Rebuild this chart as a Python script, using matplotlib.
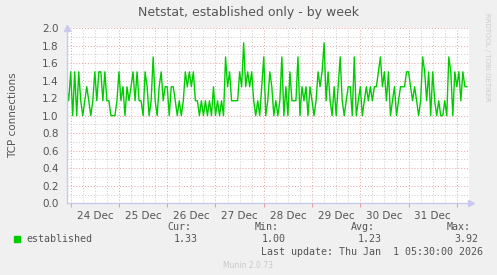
import matplotlib
matplotlib.use("Agg")
import matplotlib.pyplot as plt
import matplotlib.dates as mdates
import pandas as pd

# hourly samples, starting 23 Dec 22:00
start_time = "2025-12-23 22:00"
established = [
    1.33, 1.17,
    # 24 Dec
    1.5, 1.0, 1.5, 1.0, 1.5, 1.17, 1.0, 1.17, 1.33, 1.17, 1.0, 1.17,
    1.5, 1.17, 1.5, 1.5, 1.17, 1.5, 1.17, 1.17, 1.0, 1.0, 1.0, 1.17,
    # 25 Dec
    1.5, 1.17, 1.33, 1.0, 1.33, 1.17, 1.33, 1.5, 1.17, 1.5, 1.17, 1.17,
    1.0, 1.5, 1.33, 1.0, 1.17, 1.67, 1.17, 1.0, 1.33, 1.5, 1.17, 1.33,
    # 26 Dec
    1.33, 1.0, 1.33, 1.33, 1.17, 1.0, 1.17, 1.0, 1.17, 1.5, 1.33, 1.5,
    1.33, 1.5, 1.17, 1.17, 1.0, 1.17, 1.0, 1.17, 1.0, 1.17, 1.0, 1.33,
    # 27 Dec
    1.0, 1.17, 1.0, 1.17, 1.0, 1.67, 1.33, 1.5, 1.17, 1.17, 1.17, 1.17,
    1.5, 1.33, 1.83, 1.33, 1.5, 1.33, 1.5, 1.17, 1.0, 1.17, 1.0, 1.33,
    # 28 Dec
    1.67, 1.0, 1.17, 1.5, 1.33, 1.0, 1.17, 1.0, 1.17, 1.67, 1.0, 1.33,
    1.0, 1.5, 1.17, 1.17, 1.17, 1.67, 1.0, 1.33, 1.17, 1.33, 1.0, 1.33,
    # 29 Dec
    1.17, 1.0, 1.17, 1.5, 1.33, 1.5, 1.83, 1.17, 1.5, 1.17, 1.0, 1.33,
    1.0, 1.33, 1.67, 1.17, 1.0, 1.17, 1.33, 1.33, 1.0, 1.67, 1.0, 1.17,
    # 30 Dec
    1.33, 1.0, 1.17, 1.33, 1.17, 1.33, 1.17, 1.33, 1.33, 1.5, 1.67, 1.33,
    1.5, 1.17, 1.5, 1.0, 1.17, 1.33, 1.0, 1.17, 1.33, 1.33, 1.33, 1.5,
    # 31 Dec
    1.5, 1.33, 1.17, 1.33, 1.17, 1.0, 1.17, 1.67, 1.5, 1.17, 1.5, 1.0,
    1.5, 1.17, 1.0, 1.17, 1.0, 1.0, 1.17, 1.0, 1.67, 1.5, 1.0, 1.5,
    # 1 Jan
    1.33, 1.5, 1.17, 1.5, 1.33, 1.33,
]
day_labels = ["24 Dec", "25 Dec", "26 Dec", "27 Dec", "28 Dec", "29 Dec", "30 Dec", "31 Dec"]
y_ticks = [0.0, 0.2, 0.4, 0.6, 0.8, 1.0, 1.2, 1.4, 1.6, 1.8, 2.0]
legend_stats = {"Cur:": "1.33", "Min:": "1.00", "Avg:": "1.23", "Max:": "3.92"}

bg = "#f0f0f0"
text_col = "#555555"
grid_major = "#e8a0a0"
grid_minor = "#c8c8c8"
axis_col = "#c8c8f0"
green = "#00cc00"

times = pd.date_range(start_time, periods=len(established), freq="h")

fig = plt.figure(figsize=(4.97, 2.75), dpi=100, facecolor=bg)
ax = fig.add_axes([0.1348, 0.2607, 0.809, 0.6375])
ax.set_facecolor("white")

ax.plot(times, established, color=green, lw=1.0)

x0 = pd.Timestamp("2025-12-23 22:10")
x1 = pd.Timestamp("2026-01-01 06:05")
ax.set_xlim(x0, x1)
ax.set_ylim(0, 2.0)

# grid
ax.xaxis.set_major_locator(mdates.DayLocator())
ax.xaxis.set_minor_locator(mdates.HourLocator(byhour=[6, 12, 18]))
ax.set_yticks(y_ticks)
ax.set_yticks([v + 0.1 for v in y_ticks[:-1]], minor=True)
ax.grid(which="minor", color=grid_minor, ls=(0, (1, 2)), lw=0.7)
ax.grid(which="major", color=grid_major, ls=(0, (1, 2)), lw=0.7)
ax.set_axisbelow(True)
ax.xaxis.set_major_formatter(plt.NullFormatter())
ax.tick_params(axis="x", which="major", length=3, color=grid_major)
ax.tick_params(axis="x", which="minor", length=0)
ax.tick_params(axis="y", which="both", length=0, pad=6, labelsize=7.5, labelcolor=text_col)
ax.set_yticklabels(["%.1f" % v for v in y_ticks])

# day labels centred at noon
for i, lab in enumerate(day_labels):
    t = pd.Timestamp("2025-12-24 12:00") + pd.Timedelta(days=i)
    ax.text(t, -0.045, lab, transform=ax.get_xaxis_transform(),
            ha="center", va="top", fontsize=7.5, color=text_col)

for s in ["top", "right"]:
    ax.spines[s].set_visible(False)
for s in ["left", "bottom"]:
    ax.spines[s].set_color(axis_col)
    ax.spines[s].set_linewidth(1.0)
ax.plot([0], [1.0], marker="^", color=axis_col, ms=4, transform=ax.transAxes, clip_on=False)
ax.plot([1.005], [0], marker=">", color=axis_col, ms=4, transform=ax.transAxes, clip_on=False)

fig.text(0.5, 0.955, "Netstat, established only - by week", ha="center", va="center",
         fontsize=9, color=text_col)
fig.text(0.027, 0.58, "TCP connections", rotation=90, ha="center", va="center",
         fontsize=7.5, color=text_col)
fig.text(0.98, 0.79, "RRDTOOL / TOBI OETIKER", rotation=270, ha="center", va="center",
         fontsize=5, color="#cccccc")

# legend block
mono = "DejaVu Sans Mono"
fig.patches.append(plt.Rectangle((14 / 497, 1 - 242 / 275), 6 / 497, 6 / 275,
                                 transform=fig.transFigure, color=green))
fig.text(26 / 497, 1 - 239.5 / 275, "established", family=mono, fontsize=7.2,
         color=text_col, va="center")
hdr_x = [179, 267, 363, 459]
for (hdr, val), cx in zip(legend_stats.items(), hdr_x):
    fig.text(cx / 497, 1 - 227 / 275, hdr, family=mono, fontsize=7.2,
             color=text_col, va="center", ha="center")
    fig.text((cx + 7) / 497, 1 - 239.5 / 275, val, family=mono, fontsize=7.2,
             color=text_col, va="center", ha="center")
fig.text(483 / 497, 1 - 252 / 275, "Last update: Thu Jan  1 05:30:00 2026",
         family=mono, fontsize=7.2, color=text_col, va="center", ha="right")
fig.text(248 / 497, 1 - 266 / 275, "Munin 2.0.73", fontsize=5.5, color="#c8c8c8",
         ha="center", va="center")

fig.savefig("out.png", dpi=100, facecolor=bg)
